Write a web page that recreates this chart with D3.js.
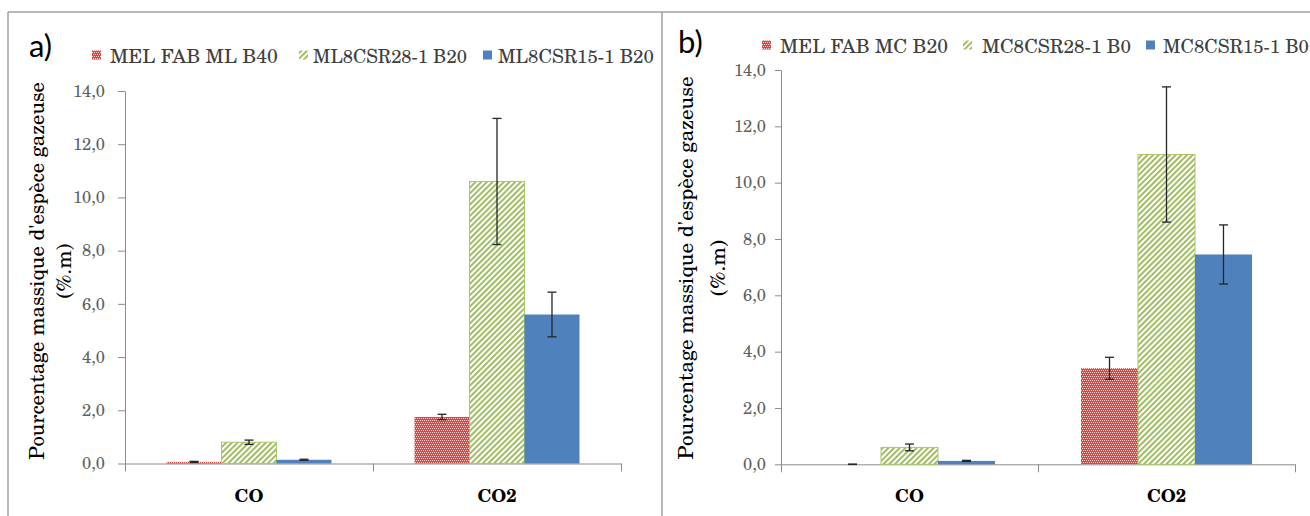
<!DOCTYPE html>
<html><head><meta charset="utf-8">
<script src="https://cdn.jsdelivr.net/npm/d3@7"></script>
<style>html,body{margin:0;padding:0;background:#fff;}svg{display:block;}</style>
</head><body>
<svg id="chart" width="1310" height="516"></svg>
<script>
// ---- DATA ----
const categories = ["CO", "CO2"];
const yTicks = [0, 2, 4, 6, 8, 10, 12, 14];
const yTitle1 = "Pourcentage massique d'espèce gazeuse";
const yTitle2 = "(%.m)";

// panel a)
const seriesA = ["MEL FAB ML B40", "ML8CSR28-1 B20", "ML8CSR15-1 B20"];
const aMel = [0.06, 1.75];
const aMelErr = [0.02, 0.10];
const a28 = [0.80, 10.6];
const a28Err = [0.08, 2.37];
const a15 = [0.14, 5.6];
const a15Err = [0.02, 0.84];

// panel b)
const seriesB = ["MEL FAB MC B20", "MC8CSR28-1 B0", "MC8CSR15-1 B0"];
const bMel = [0.0, 3.41];
const bMelErr = [0.005, 0.39];
const b28 = [0.60, 11.0];
const b28Err = [0.12, 2.4];
const b15 = [0.12, 7.45];
const b15Err = [0.02, 1.05];

// ---- DRAWING ----
const svg = d3.select("#chart");
const defs = svg.append("defs");

// red dotted pattern
const pr = defs.append("pattern").attr("id", "pRed").attr("patternUnits", "userSpaceOnUse")
  .attr("width", 4).attr("height", 4);
pr.append("rect").attr("width", 4).attr("height", 4).attr("fill", "#d04c48").attr("shape-rendering", "crispEdges");
[[0, 0], [2, 0], [1, 2], [3, 2]].forEach(([px, py]) => {
  pr.append("rect").attr("x", px).attr("y", py).attr("width", 1).attr("height", 1)
    .attr("fill", "#fff").attr("fill-opacity", 0.75).attr("shape-rendering", "crispEdges");
});

// green diagonal stripes
const pg = defs.append("pattern").attr("id", "pGreen").attr("patternUnits", "userSpaceOnUse")
  .attr("width", 4).attr("height", 4).attr("patternTransform", "rotate(45)");
pg.append("rect").attr("width", 4).attr("height", 4).attr("fill", "#fff");
pg.append("rect").attr("width", 1.9).attr("height", 4).attr("fill", "#9bbb59");

const fills = ["url(#pRed)", "url(#pGreen)", "#4f81bd"];
const strokes = ["none", "#a9c76b", "none"];

const serif = "'TeX Gyre Schola'";

function fit(sel, target) {
  const w = sel.node().getComputedTextLength();
  const fs = parseFloat(sel.attr("font-size"));
  sel.attr("font-size", fs * target / w);
}

// outer frame
svg.append("line").attr("x1", 8).attr("x2", 1310).attr("y1", 12).attr("y2", 12).attr("stroke", "#a0a0a0").attr("stroke-width", 1.5);
svg.append("line").attr("x1", 8).attr("x2", 8).attr("y1", 12).attr("y2", 516).attr("stroke", "#a0a0a0").attr("stroke-width", 1.5);
svg.append("line").attr("x1", 662).attr("x2", 662).attr("y1", 12).attr("y2", 516).attr("stroke", "#a0a0a0").attr("stroke-width", 1.5);

function drawPanel(cfg) {
  const g = svg.append("g");
  const y = d3.scaleLinear().domain([0, 14]).range([cfg.y0, cfg.y14]);
  const x0 = d3.scaleBand().domain(categories).range([cfg.xL, cfg.xR]).paddingInner(0).paddingOuter(0);
  const x1 = d3.scaleBand().domain([0, 1, 2]).range([0, x0.bandwidth()]).paddingInner(0).paddingOuter(0.755);

  // y axis
  const ya = g.append("g").attr("transform", `translate(${cfg.xL},0)`)
    .call(d3.axisLeft(y).tickValues(yTicks).tickFormat(d => d.toFixed(1).replace(".", ","))
      .tickSize(cfg.tickLen).tickSizeOuter(0).tickPadding(cfg.tickPad));
  ya.select(".domain").attr("stroke", "#8c8c8c");
  ya.selectAll(".tick line").attr("stroke", "#8c8c8c");
  ya.selectAll(".tick text").attr("font-family", serif).attr("font-size", 16.5).attr("fill", "#5f5f5f");

  // x axis with boundary ticks
  const xb = d3.scaleLinear().domain([0, categories.length]).range([cfg.xL, cfg.xR]);
  const xa = g.append("g").attr("transform", `translate(0,${cfg.y0})`)
    .call(d3.axisBottom(xb).tickValues(d3.range(categories.length + 1)).tickFormat("").tickSize(8).tickSizeOuter(0));
  xa.select(".domain").attr("stroke", "#8c8c8c");
  xa.selectAll(".tick line").attr("stroke", "#8c8c8c");

  // category labels
  g.selectAll(".cat").data(categories).enter().append("text")
    .attr("x", d => x0(d) + x0.bandwidth() / 2).attr("y", cfg.catY)
    .attr("text-anchor", "middle").attr("font-family", serif).attr("font-weight", "bold")
    .attr("font-size", 18).attr("fill", "#000").text(d => d);

  // bars
  cfg.values.forEach((vals, si) => {
    g.selectAll(".bar" + si).data(vals).enter().append("rect")
      .attr("x", (d, i) => x0(categories[i]) + x1(si))
      .attr("width", x1.bandwidth())
      .attr("y", d => y(d))
      .attr("height", d => y(0) - y(d))
      .attr("fill", fills[si]).attr("stroke", strokes[si]).attr("stroke-width", 1);
  });
  // error bars
  cfg.values.forEach((vals, si) => {
    vals.forEach((v, i) => {
      const e = cfg.errs[si][i];
      const cx = x0(categories[i]) + x1(si) + x1.bandwidth() / 2;
      const eg = g.append("g").attr("stroke", "#262626").attr("stroke-width", 1.3);
      eg.append("line").attr("x1", cx).attr("x2", cx).attr("y1", y(v + e)).attr("y2", y(v - e));
      eg.append("line").attr("x1", cx - 4.5).attr("x2", cx + 4.5).attr("y1", y(v + e)).attr("y2", y(v + e));
      eg.append("line").attr("x1", cx - 4.5).attr("x2", cx + 4.5).attr("y1", y(v - e)).attr("y2", y(v - e));
    });
  });

  // y title
  const t1 = g.append("text").attr("transform", `translate(${cfg.t1x},${cfg.tCy}) rotate(-90)`)
    .attr("text-anchor", "middle").attr("dominant-baseline", "central")
    .attr("font-family", serif).attr("font-size", 17).attr("fill", "#000").text(yTitle1);
  fit(t1, cfg.tLen);
  g.append("text").attr("transform", `translate(${cfg.t2x},${cfg.tCy}) rotate(-90)`)
    .attr("text-anchor", "middle").attr("dominant-baseline", "central")
    .attr("font-family", serif).attr("font-size", t1.attr("font-size")).attr("fill", "#000").text(yTitle2);

  // panel label
  g.append("text").attr("x", cfg.labX).attr("y", cfg.labY).attr("font-family", "Lato, 'Open Sans', sans-serif")
    .attr("font-size", 31).attr("fill", "#000").text(cfg.label);

  // legend
  cfg.series.forEach((s, si) => {
    const lx = cfg.legSw[si];
    g.append("rect").attr("x", lx).attr("y", cfg.legY - 4.5).attr("width", 9).attr("height", 9)
      .attr("fill", fills[si]);
    const t = g.append("text").attr("x", cfg.legTx[si]).attr("y", cfg.legY).attr("dominant-baseline", "central")
      .attr("font-family", serif).attr("font-size", 17).attr("fill", "#404040").text(s);
    fit(t, cfg.legTw[si]);
  });
}

drawPanel({
  label: "a)", labX: 29, labY: 57,
  xL: 125, xR: 621, y0: 463.5, y14: 91, tickLen: 7, tickPad: 13, catY: 502,
  values: [aMel, a28, a15], errs: [aMelErr, a28Err, a15Err], series: seriesA,
  t1x: 36, t2x: 63, tCy: 271, tLen: 378,
  legY: 55, legSw: [92, 299, 483], legTx: [110, 313, 498], legTw: [168, 154, 156]
});
drawPanel({
  label: "b)", labX: 678, labY: 53,
  xL: 781, xR: 1295, y0: 464.3, y14: 70, tickLen: 6, tickPad: 9, catY: 502,
  values: [bMel, b28, b15], errs: [bMelErr, b28Err, b15Err], series: seriesB,
  t1x: 684, t2x: 716, tCy: 268, tLen: 383,
  legY: 45, legSw: [762, 963, 1146], legTx: [780, 982, 1163], legTw: [168, 149, 146]
});
</script>
</body></html>
